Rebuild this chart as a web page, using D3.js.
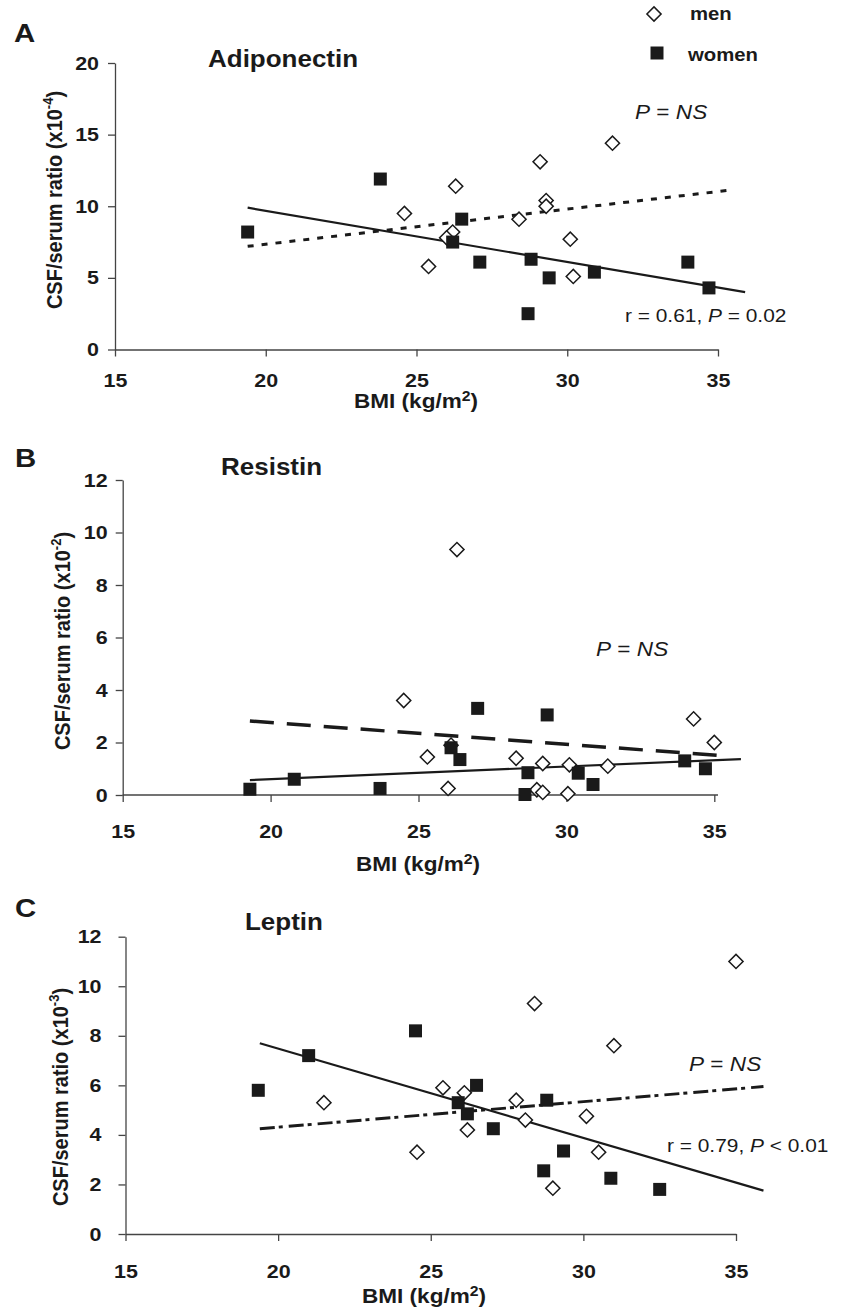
<!DOCTYPE html>
<html>
<head>
<meta charset="utf-8">
<script src="https://cdn.jsdelivr.net/npm/d3@7"></script>
<style>
  body { margin: 0; background: #fff; }
  svg { font-family: "Liberation Sans", Arial, Helvetica, sans-serif; }
</style>
</head>
<body>
<svg id="chart" width="842" height="1312"></svg>
<script>
// ---- data: [BMI, CSF/serum ratio] ----
const bmiTicks = [15, 20, 25, 30, 35];

// A: adiponectin (x10^-4)
const adipoTicks = [0, 5, 10, 15, 20];
const adipoMen = [[24.6, 9.5], [26.3, 11.4], [25.4, 5.8], [26.2, 8.2], [26.0, 7.8], [28.4, 9.1],
  [29.1, 13.1], [29.3, 10.4], [29.3, 10.0], [30.1, 7.7], [30.2, 5.1], [31.5, 14.4]];
const adipoWomen = [[19.4, 8.2], [23.8, 11.9], [26.5, 9.1], [26.2, 7.5], [27.1, 6.1], [28.8, 6.3],
  [29.4, 5.0], [30.9, 5.4], [28.7, 2.5], [34.0, 6.1], [34.7, 4.3]];
const adipoFitMen = [[19.4, 7.2], [35.5, 11.15]];
const adipoFitWomen = [[19.4, 9.9], [35.9, 4.0]];

// B: resistin (x10^-2)
const resTicks = [0, 2, 4, 6, 8, 10, 12];
const resMen = [[26.3, 9.35], [24.5, 3.6], [34.3, 2.9], [35.0, 2.0], [25.3, 1.45], [26.1, 1.9],
  [26.0, 0.25], [28.3, 1.4], [29.2, 1.2], [30.1, 1.15], [31.4, 1.1], [29.0, 0.2], [29.2, 0.1], [30.05, 0.05]];
const resWomen = [[19.3, 0.22], [20.8, 0.6], [23.7, 0.25], [27.0, 3.3], [29.35, 3.05], [26.1, 1.8],
  [26.4, 1.35], [28.7, 0.85], [28.6, 0.02], [30.4, 0.83], [30.9, 0.4], [34.0, 1.3], [34.7, 1.0]];
const resFitMen = [[19.3, 2.82], [35.35, 1.49]];
const resFitWomen = [[19.3, 0.57], [35.9, 1.37]];

// C: leptin (x10^-3)
const lepTicks = [0, 2, 4, 6, 8, 10, 12];
const lepMen = [[35.0, 11.0], [28.4, 9.3], [31.0, 7.6], [21.5, 5.3], [24.55, 3.3], [25.4, 5.9],
  [26.1, 5.7], [26.2, 4.2], [27.8, 5.4], [28.1, 4.6], [30.1, 4.75], [30.5, 3.3], [29.0, 1.85]];
const lepWomen = [[21.0, 7.2], [24.5, 8.2], [19.35, 5.8], [26.5, 6.0], [25.9, 5.3], [26.2, 4.85],
  [27.05, 4.25], [28.8, 5.4], [29.35, 3.35], [28.7, 2.55], [30.9, 2.25], [32.5, 1.8]];
const lepFitMen = [[19.4, 4.25], [35.9, 5.95]];
const lepFitWomen = [[19.4, 7.7], [35.9, 1.75]];

const svg = d3.select("#chart");
const SX = 1.13; // the scanned figure is a bit wider than tall
const ink = "#1a1a1a";

// text helper, stretched horizontally like the source
function label(parent, x, y, size, weight, anchor) {
  return parent.append("text")
    .attr("transform", `translate(${x},${y}) scale(${SX},1)`)
    .attr("font-size", size)
    .attr("font-weight", weight)
    .attr("text-anchor", anchor || "start")
    .attr("fill", ink);
}

const diamond = d3.symbol().type(d3.symbolSquare).size(100);
const square = d3.symbol().type(d3.symbolSquare).size(169);

function drawPanel(p) {
  const x = d3.scaleLinear().domain([15, 35]).range(p.xr);
  const y = d3.scaleLinear().domain([0, p.ticks[p.ticks.length - 1]]).range(p.yr);
  const g = svg.append("g");

  // axes
  const xa = g.append("g")
    .attr("transform", `translate(0,${p.yr[0]})`)
    .call(d3.axisBottom(x).tickValues(bmiTicks).tickSize(7).tickSizeOuter(0).tickPadding(p.xpad));
  const ya = g.append("g")
    .attr("transform", `translate(${p.xr[0]},0)`)
    .call(d3.axisLeft(y).tickValues(p.ticks).tickSize(7).tickSizeOuter(0));
  [xa, ya].forEach((a) => {
    a.attr("font-size", null).attr("font-family", null);
    a.selectAll("path, line").attr("stroke", "#444").attr("stroke-width", 1.3);
    a.selectAll("text").attr("font-size", 19).attr("font-weight", "bold").attr("fill", ink);
  });
  if (p.xend) xa.select(".domain").attr("d", `M${p.xr[0]},0H${p.xend}`);
  xa.selectAll("text").attr("transform", `scale(${SX},1)`);
  ya.selectAll("text")
    .attr("x", -(7 + p.ypad) / SX)
    .attr("transform", `scale(${SX},1)`);

  // regression lines
  const line = d3.line().x((d) => x(d[0])).y((d) => y(d[1]));
  g.append("path").datum(p.fitWomen).attr("d", line)
    .attr("fill", "none").attr("stroke", ink).attr("stroke-width", 2.2);
  g.append("path").datum(p.fitMen).attr("d", line)
    .attr("fill", "none").attr("stroke", ink).attr("stroke-width", p.menWidth)
    .attr("stroke-dasharray", p.menDash);

  // points
  g.selectAll(".men").data(p.men).join("path")
    .attr("class", "men")
    .attr("d", diamond)
    .attr("transform", (d) => `translate(${x(d[0])},${y(d[1])}) rotate(45)`)
    .attr("fill", "#fff").attr("stroke", ink).attr("stroke-width", 1.5);
  g.selectAll(".women").data(p.women).join("path")
    .attr("class", "women")
    .attr("d", square)
    .attr("transform", (d) => `translate(${x(d[0])},${y(d[1])})`)
    .attr("fill", ink);

  // texts
  label(g, p.letter[1], p.letter[2], 26, "bold").text(p.letter[0]);
  label(g, p.title[1], p.title[2], 23, "bold").text(p.title[0]);

  const xt = label(g, p.xlab[0], p.xlab[1], 20, "bold", "middle");
  xt.append("tspan").text("BMI (kg/m");
  xt.append("tspan").attr("font-size", 14).attr("dy", -7).text("2");
  xt.append("tspan").attr("dy", 7).text(")");

  const yt = g.append("text")
    .attr("transform", `translate(${p.ylab[0]},${p.ylab[1]}) rotate(-90) scale(1,${SX})`)
    .attr("font-size", 20).attr("font-weight", "bold").attr("text-anchor", "middle").attr("fill", ink);
  yt.append("tspan").text("CSF/serum ratio (x10");
  yt.append("tspan").attr("font-size", 13).attr("dy", -8).text(p.exp);
  yt.append("tspan").attr("dy", 8).text(")");

  const ns = label(g, p.ns[0], p.ns[1], 20, "normal");
  ns.append("tspan").attr("font-style", "italic").text("P");
  ns.append("tspan").text(" = ");
  ns.append("tspan").attr("font-style", "italic").text("NS");

  if (p.r) {
    const rt = label(g, p.r[1], p.r[2], 18.5, "normal");
    rt.append("tspan").text(p.r[0][0]);
    rt.append("tspan").attr("font-style", "italic").text("P");
    rt.append("tspan").text(p.r[0][1]);
  }
}

drawPanel({
  xr: [115, 718], yr: [349.5, 63], ticks: adipoTicks, xpad: 17, ypad: 9,
  men: adipoMen, women: adipoWomen, fitMen: adipoFitMen, fitWomen: adipoFitWomen,
  menDash: "6,8", menWidth: 3,
  letter: ["A", 14, 42], title: ["Adiponectin", 208, 67],
  xlab: [416, 408], ylab: [62, 200], exp: "-4",
  ns: [635, 119], r: [["r = 0.61, ", " = 0.02"], 625, 322]
});

drawPanel({
  xr: [122.7, 714.3], yr: [795, 480], ticks: resTicks, xpad: 23, ypad: 8, xend: 718,
  men: resMen, women: resWomen, fitMen: resFitMen, fitWomen: resFitWomen,
  menDash: "24,13", menWidth: 3.5,
  letter: ["B", 15, 467], title: ["Resistin", 221, 475],
  xlab: [418, 871], ylab: [70, 641], exp: "-2",
  ns: [596, 656]
});

drawPanel({
  xr: [125.5, 736], yr: [1234, 936.7], ticks: lepTicks, xpad: 24, ypad: 17,
  men: lepMen, women: lepWomen, fitMen: lepFitMen, fitWomen: lepFitWomen,
  menDash: "15,4,4,6", menWidth: 3,
  letter: ["C", 15, 917], title: ["Leptin", 245, 930],
  xlab: [424, 1303], ylab: [68, 1097], exp: "-3",
  ns: [689, 1071], r: [["r = 0.79, ", " < 0.01"], 667, 1152]
});

// legend (top right)
const lg = svg.append("g");
lg.append("path").attr("d", diamond).attr("transform", "translate(654,14) rotate(45)")
  .attr("fill", "#fff").attr("stroke", ink).attr("stroke-width", 1.5);
lg.append("path").attr("d", square).attr("transform", "translate(657,53)").attr("fill", ink);
label(lg, 690, 20, 18, "bold").text("men");
label(lg, 688, 61, 18, "bold").text("women");
</script>
</body>
</html>
